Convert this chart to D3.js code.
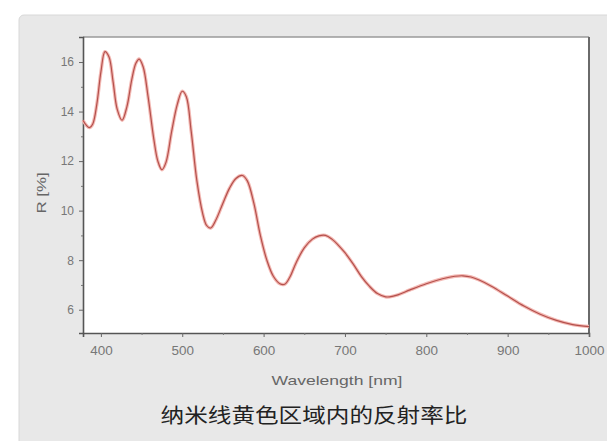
<!DOCTYPE html>
<html>
<head>
<meta charset="utf-8">
<script src="https://cdn.jsdelivr.net/npm/d3@7"></script>
<style>
  html, body { margin: 0; padding: 0; background: #ffffff; }
  svg { display: block; }
</style>
</head>
<body>
<svg id="chart" width="607" height="441"></svg>
<script>
// Reflectance spectrum of the nanowire yellow region
const wavelength = [378, 382, 386, 390, 395, 400, 405, 410, 415, 420, 426, 432, 438, 443, 447, 452, 458, 465, 470, 475,
  480, 487, 494, 500, 505, 511, 518, 525, 530, 535, 541, 550, 558, 566, 574, 580, 588, 596, 604, 612,
  620, 626, 632, 640, 650, 660, 668, 676, 684, 692, 700, 710, 720, 730, 740, 750, 755, 765, 780, 800,
  820, 835, 845, 855, 865, 880, 900, 920, 940, 960, 980, 1000];
const reflectance = [13.65, 13.45, 13.35, 13.5, 14.3, 15.6, 16.42, 16.2, 15.2, 14.1, 13.65, 14.2, 15.3, 15.95, 16.12, 15.8, 14.6, 12.9, 12.0, 11.65,
  11.95, 13.2, 14.3, 14.82, 14.6, 13.2, 11.2, 9.9, 9.4, 9.3, 9.6, 10.3, 10.9, 11.3, 11.42, 11.2, 10.3, 9.0, 8.0, 7.35,
  7.05, 7.03, 7.3, 7.9, 8.5, 8.85, 8.98, 9.0, 8.85, 8.6, 8.3, 7.85, 7.35, 6.95, 6.65, 6.52, 6.52, 6.6, 6.8, 7.05,
  7.25, 7.35, 7.37, 7.32, 7.2, 6.95, 6.55, 6.15, 5.82, 5.57, 5.4, 5.32];

const xTicks = [400, 500, 600, 700, 800, 900, 1000];
const xMinor = [450, 550, 650, 750, 850, 950];
const yTicks = [6, 8, 10, 12, 14, 16];
const yMinor = [7, 9, 11, 13, 15];

const xTitle = "Wavelength [nm]";
const yTitle = "R [%]";
const caption = "纳米线黄色区域内的反射率比";

const svg = d3.select("#chart");
const W = 607, H = 441;
const plot = { left: 83, top: 37, right: 589, bottom: 333 };

// card panel
svg.append("rect").attr("x", 19).attr("y", 15).attr("width", W).attr("height", H)
  .attr("rx", 5).attr("fill", "#e8e8e8").attr("stroke", "#d8d8d8").attr("stroke-width", 1);

const x = d3.scaleLinear().domain([378, 1000]).range([plot.left, plot.right]);
const y = d3.scaleLinear().domain([5.06, 17.01]).range([plot.bottom, plot.top]);

// plot background
svg.append("rect").attr("x", plot.left).attr("y", plot.top)
  .attr("width", plot.right - plot.left).attr("height", plot.bottom - plot.top)
  .attr("fill", "#ffffff");

// frame: top and right edges
svg.append("line").attr("x1", plot.left).attr("x2", plot.right).attr("y1", plot.top).attr("y2", plot.top)
  .attr("stroke", "#9a9a9a").attr("stroke-width", 1.5);
svg.append("line").attr("x1", plot.right).attr("x2", plot.right).attr("y1", plot.top).attr("y2", plot.bottom)
  .attr("stroke", "#6a6a6a").attr("stroke-width", 2);

const tickFont = "'Liberation Sans', Arial, sans-serif";

// widen a text element horizontally by a factor
function widen(sel, k) {
  sel.each(function () {
    const len = this.getComputedTextLength();
    d3.select(this).attr("textLength", len * k).attr("lengthAdjust", "spacingAndGlyphs");
  });
}

// x axis
const xAxis = svg.append("g").attr("transform", `translate(0,${plot.bottom})`)
  .call(d3.axisBottom(x).tickValues(xTicks).tickSize(4).tickPadding(9).tickFormat(d3.format("d")));
xAxis.select(".domain").attr("stroke", "#555").attr("stroke-width", 1.6);
xAxis.selectAll(".tick line").attr("stroke", "#666");
xAxis.selectAll("text").attr("fill", "#777").style("font-family", tickFont).style("font-size", "12px")
  .call(widen, 1.12);
svg.append("g").attr("transform", `translate(0,${plot.bottom})`)
  .call(d3.axisBottom(x).tickValues(xMinor).tickSize(2).tickFormat(""))
  .call(g => g.select(".domain").remove())
  .selectAll(".tick line").attr("stroke", "#777");

// y axis
const yAxis = svg.append("g").attr("transform", `translate(${plot.left},0)`)
  .call(d3.axisLeft(y).tickValues(yTicks).tickSize(4).tickPadding(5).tickFormat(d3.format("d")));
yAxis.select(".domain").attr("stroke", "#555").attr("stroke-width", 1.6);
yAxis.selectAll(".tick line").attr("stroke", "#666");
yAxis.selectAll("text").attr("fill", "#777").style("font-family", tickFont).style("font-size", "12px");
svg.append("g").attr("transform", `translate(${plot.left},0)`)
  .call(d3.axisLeft(y).tickValues(yMinor).tickSize(2).tickFormat(""))
  .call(g => g.select(".domain").remove())
  .selectAll(".tick line").attr("stroke", "#777");

// axis titles
svg.append("text").attr("x", 337).attr("y", 385)
  .attr("text-anchor", "middle").attr("fill", "#666")
  .style("font-family", tickFont).style("font-size", "13.5px").text(xTitle)
  .call(widen, 1.3);
svg.append("text").attr("transform", `translate(46,193) rotate(-90)`)
  .attr("text-anchor", "middle").attr("fill", "#666")
  .style("font-family", tickFont).style("font-size", "13.5px").text(yTitle)
  .call(widen, 1.25);

// reflectance curve: soft halo plus core line
const pts = wavelength.map((w, i) => [w, reflectance[i]]);
const line = d3.line().x(d => x(d[0])).y(d => y(d[1])).curve(d3.curveCatmullRom.alpha(0.5));
svg.append("path").datum(pts).attr("d", line).attr("fill", "none")
  .attr("stroke", "#f3b9b4").attr("stroke-width", 3.4).attr("stroke-linejoin", "round");
svg.append("path").datum(pts).attr("d", line).attr("fill", "none")
  .attr("stroke", "#b4504c").attr("stroke-width", 1.2).attr("stroke-linejoin", "round");

// caption
svg.append("text").attr("x", 314).attr("y", 423)
  .attr("text-anchor", "middle").attr("fill", "#222")
  .style("font-family", "'Noto Sans CJK SC', sans-serif").style("font-size", "20px")
  .style("font-weight", 400).text(caption)
  .call(widen, 1.18);
</script>
</body>
</html>
